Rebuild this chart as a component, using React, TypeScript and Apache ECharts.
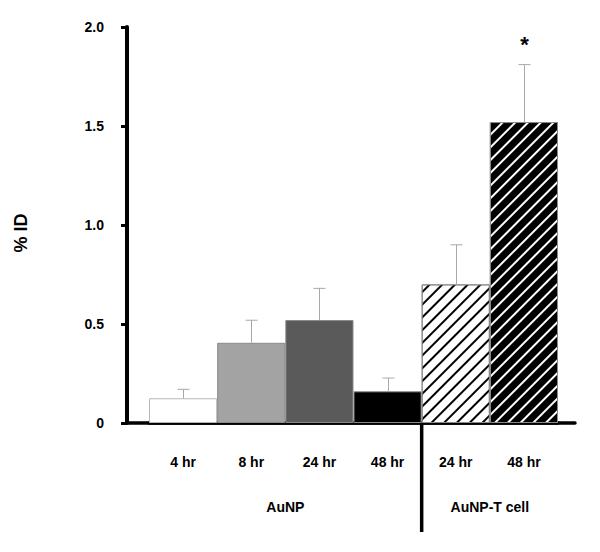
import React, { useEffect, useRef } from 'react';
import * as echarts from 'echarts';

const categories = ['4 hr', '8 hr', '24 hr', '48 hr', '24 hr', '48 hr'];
const means = [0.125, 0.405, 0.52, 0.16, 0.7, 1.52];
const errors = [0.045, 0.114, 0.16, 0.067, 0.2, 0.29];
const significance = ['', '', '', '', '', '*'];
const barColors = ['#ffffff', '#a3a3a3', '#5a5a5a', '#000000', '#ffffff', '#000000'];
const hatchColors = ['', '', '', '', '#000000', '#ffffff'];
const groups = ['AuNP', 'AuNP-T cell'];
const groupFirst = [0, 4];
const groupLast = [3, 5];
const yMin = 0;
const yMax = 2;
const yInterval = 0.5;
const yName = '% ID';

const FONT = 'Liberation Sans, Arial, sans-serif';

export default function App() {
  const ref = useRef<HTMLDivElement>(null);
  useEffect(() => {
    document.body.style.margin = '0';
    const chart = echarts.init(ref.current!, null, { renderer: 'svg' });
    const option: any = {
      animation: false,
      backgroundColor: '#ffffff',
      grid: [
        { left: 149, right: 42, top: 27, bottom: 129 },
        { left: 127, right: 25, top: 27, bottom: 129 },
      ],
      xAxis: [
        {
          type: 'category',
          gridIndex: 0,
          data: categories,
          offset: 2,
          axisLine: { show: true, lineStyle: { color: '#000', width: 3.5 } },
          axisTick: { show: false },
          axisLabel: {
            margin: 30,
            color: '#000',
            fontSize: 14,
            fontWeight: 'bold',
            fontFamily: FONT,
          },
          splitLine: { show: false },
        },
        {
          type: 'value',
          gridIndex: 1,
          min: 0,
          max: 1,
          offset: 2,
          axisLine: { show: true, lineStyle: { color: '#000', width: 3.5 } },
          axisTick: { show: false },
          axisLabel: { show: false },
          splitLine: { show: false },
        },
      ],
      yAxis: [
        {
          type: 'value',
          gridIndex: 0,
          min: yMin,
          max: yMax,
          interval: yInterval,
          offset: 22,
          name: yName,
          nameLocation: 'middle',
          nameGap: 97,
          nameTextStyle: {
            color: '#000',
            fontSize: 18,
            fontWeight: 'bold',
            fontFamily: FONT,
            padding: [0, 16, 0, 0],
          },
          axisLine: { show: true, lineStyle: { color: '#000', width: 4 } },
          axisTick: { show: true, length: 6, lineStyle: { color: '#000', width: 3 } },
          axisLabel: {
            margin: 23,
            color: '#000',
            fontSize: 14,
            fontWeight: 'bold',
            fontFamily: FONT,
            formatter: (v: number) => (v === 0 ? '0' : v.toFixed(1)),
          },
          splitLine: { show: false },
        },
        {
          type: 'value',
          gridIndex: 1,
          min: yMin,
          max: yMax,
          show: false,
        },
      ],
      series: [
        {
          type: 'bar',
          xAxisIndex: 0,
          yAxisIndex: 0,
          barCategoryGap: '0%',
          barWidth: '100%',
          data: means.map((v, i) => ({
            value: v,
            itemStyle: {
              color: barColors[i],
              borderColor: i === 0 ? '#b8b8b8' : '#8a8a8a',
              borderWidth: 1,
              decal: hatchColors[i]
                ? {
                    symbol: 'rect',
                    symbolSize: 1,
                    color: hatchColors[i],
                    dashArrayX: [1, 0],
                    dashArrayY: [1.1, 6.2],
                    rotation: -Math.PI / 4,
                  }
                : undefined,
            },
          })),
          z: 2,
        },
        {
          type: 'custom',
          xAxisIndex: 0,
          yAxisIndex: 0,
          data: means.map((m, i) => [i, m, errors[i]]),
          encode: { x: 0, y: 1 },
          z: 3,
          renderItem: (params: any, api: any) => {
            const idx = api.value(0);
            const m = api.value(1);
            const e = api.value(2);
            const base = api.coord([idx, m]);
            const top = api.coord([idx, m + e]);
            const x = Math.round(base[0]) + 0.5;
            const children: any[] = [
              {
                type: 'line',
                shape: { x1: x, y1: base[1], x2: x, y2: top[1] },
                style: { stroke: '#a8a8a8', lineWidth: 1 },
              },
              {
                type: 'line',
                shape: { x1: x - 6, y1: top[1], x2: x + 6, y2: top[1] },
                style: { stroke: '#a8a8a8', lineWidth: 1 },
              },
            ];
            const sig = significance[params.dataIndex];
            if (sig) {
              children.push({
                type: 'text',
                x: x,
                y: top[1] - 20,
                style: {
                  text: sig,
                  fill: '#000',
                  fontSize: 22,
                  fontWeight: 'bold',
                  fontFamily: FONT,
                  align: 'center',
                  verticalAlign: 'middle',
                },
              });
            }
            return { type: 'group', children };
          },
        },
      ],
    };
    chart.setOption(option);

    const px = (i: number) => chart.convertToPixel({ xAxisIndex: 0 }, i) as number;
    const y0 = chart.convertToPixel({ yAxisIndex: 0 }, 0) as number;
    const sepX = (px(groupLast[0]) + px(groupFirst[1])) / 2;
    const graphics: any[] = [
      {
        type: 'line',
        shape: { x1: sepX, y1: y0, x2: sepX, y2: y0 + 109 },
        style: { stroke: '#000', lineWidth: 3.5 },
        z: 10,
      },
    ];
    groups.forEach((g, gi) => {
      const cx = (px(groupFirst[gi]) + px(groupLast[gi])) / 2;
      graphics.push({
        type: 'text',
        x: cx,
        y: y0 + 84,
        style: {
          text: g,
          fill: '#000',
          fontSize: 14,
          fontWeight: 'bold',
          fontFamily: FONT,
          align: 'center',
          verticalAlign: 'middle',
        },
        z: 10,
      });
    });
    chart.setOption({ graphic: graphics });

    return () => chart.dispose();
  }, []);
  return <div ref={ref} style={{ width: 600, height: 552 }} />;
}
